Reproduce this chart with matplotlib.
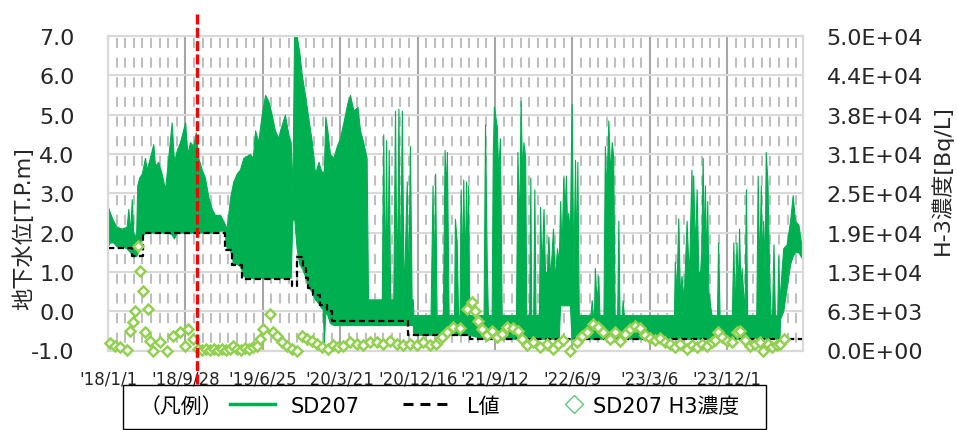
import matplotlib
matplotlib.use('Agg')
import matplotlib.pyplot as plt
from matplotlib.lines import Line2D
from matplotlib.patches import Rectangle
from matplotlib.ticker import FixedLocator, FormatStrFormatter
import numpy as np
import pandas as pd

plt.rcParams['font.family'] = ['DejaVu Sans', 'Noto Sans CJK JP']
plt.rcParams['axes.unicode_minus'] = False
plt.rcParams['lines.scale_dashes'] = False

start = pd.Timestamp('2018-01-01')
end = pd.Timestamp('2024-08-21')
event_day = pd.Timestamp('2018-11-07')

# SD207 water level: daily min / max, day = days since 2018-01-01
wl_day = [0, 7, 18, 30, 48, 65, 71, 77, 83, 88, 98, 102, 109, 118, 129, 135, 146, 158, 164, 175,
          187, 199, 210, 222, 230, 240, 251, 269, 277, 286, 298, 306, 315, 327, 338, 350, 362, 373, 391, 405,
          414, 426, 437, 449, 460, 472, 484, 495, 505, 513, 524, 536, 548, 559, 571, 582, 594,
          600, 617, 629, 637, 643, 649, 658, 667, 676, 687, 699, 711, 722, 734, 742, 749, 753, 758, 765,
          774, 786, 798, 809, 821, 835, 844, 856, 870, 879, 890, 902, 907, 925, 955, 960, 965, 970, 974,
          979, 984, 995, 1001, 1007, 1013, 1018, 1025, 1031, 1042, 1047, 1053, 1059, 1063,
          1065, 1125, 1132, 1136, 1141, 1146, 1168, 1174, 1179, 1182, 1188, 1207, 1210, 1216, 1221, 1226,
          1230, 1235, 1239, 1244, 1249, 1253, 1256, 1260, 1310, 1315, 1321, 1325, 1338, 1342, 1346, 1356,
          1361, 1367, 1373, 1423, 1428, 1434, 1439, 1444, 1449, 1455, 1459, 1469, 1473, 1476, 1483, 1487,
          1491, 1503, 1507, 1512, 1519, 1524, 1531, 1536, 1542, 1552, 1558, 1566, 1572, 1577, 1582, 1588,
          1593, 1597, 1601, 1605, 1611, 1617, 1623, 1629, 1633, 1637, 1642, 1683, 1687, 1691, 1695, 1698,
          1704, 1710, 1714, 1728, 1733, 1738, 1745, 1751, 1757, 1762, 1767, 1776, 1780, 1784, 1792, 1795,
          1799, 1974, 1977, 1982, 1989, 1995, 2000, 2008, 2018, 2026, 2035, 2038, 2041, 2047, 2053, 2059,
          2065, 2069, 2074, 2078, 2082, 2086, 2090, 2094, 2100, 2105, 2124, 2128, 2133, 2176, 2181, 2186,
          2192, 2197, 2201, 2206, 2210, 2220, 2225, 2229, 2261, 2266, 2271, 2277, 2281, 2285, 2290, 2294,
          2300, 2306, 2311, 2316, 2321, 2326, 2334, 2338, 2342, 2344, 2355, 2367, 2379, 2388, 2396, 2408, 2420]
wl_low = [1.68, 1.75, 1.75, 1.65, 1.65, 1.60, 1.55, 1.50, 1.45, 1.40, 1.40, 1.45, 1.70, 1.90, 2.00, 2.00, 2.00, 2.00, 2.00, 2.00,
          2.00, 2.00, 2.00, 1.95, 1.85, 2.00, 2.00, 2.00, 2.00, 2.00, 2.00, 2.00, 2.00, 2.00, 2.00, 2.00, 2.00, 2.00, 2.05, 2.05,
          1.60, 1.55, 1.20, 1.20, 1.15, 0.90, 0.85, 0.85, 0.85, 0.85, 0.85, 0.85, 0.85, 0.85, 0.85, 0.85, 0.85,
          0.85, 0.85, 0.85, 0.85, 2.30, 2.40, 1.60, 1.20, 1.10, 0.90, 0.60, 0.50, 0.30, 0.20, 0.10, 0.05, -0.80, 0.00, -0.10,
          -0.30, -0.35, -0.35, -0.35, -0.35, -0.35, -0.35, -0.35, -0.35, -0.35, -0.35, -0.35, -0.35, -0.35, -0.35, -0.35, -0.35, -0.35, -0.35,
          -0.35, -0.35, -0.35, -0.35, -0.35, -0.35, -0.35, -0.35, -0.35, -0.35, -0.35, -0.35, -0.35, -0.35,
          -0.6, -0.6, -0.6, -0.6, -0.6, -0.6, -0.6, -0.6, -0.6, -0.6, -0.6, -0.6, -0.6, -0.6, -0.6, -0.6,
          -0.6, -0.6, -0.6, -0.6, -0.6, -0.6, -0.6, -0.6, -0.7, -0.7, -0.7, -0.7, -0.7, -0.7, -0.7, -0.7,
          -0.7, -0.7, -0.7, -0.7, -0.7, -0.7, -0.7, -0.7, -0.7, -0.7, -0.7, -0.7, -0.7, -0.7, -0.7, -0.7,
          -0.7, -0.7, -0.7, -0.7, -0.7, -0.7, -0.7, -0.7, -0.7, -0.7, -0.7, -0.7, -0.7, 0.15, 0.15, 0.15,
          0.15, 0.15, 0.15, 0.15, 0.15, -0.7, -0.7, -0.7, -0.7, -0.7, -0.7, -0.7, -0.7, -0.7, -0.7, -0.7,
          -0.7, -0.7, -0.7, -0.7, -0.7, -0.7, -0.7, -0.7, -0.7, -0.7, -0.7, -0.7, -0.7, -0.7, -0.7, -0.7,
          -0.7, -0.7, -0.7, -0.7, -0.7, -0.7, -0.7, -0.7, -0.7, -0.7, -0.7, -0.7, -0.7, -0.7, -0.7, -0.7,
          -0.7, -0.7, -0.7, -0.7, -0.7, -0.7, -0.7, -0.7, -0.7, -0.7, -0.7, -0.7, -0.7, -0.7, -0.7, -0.7,
          -0.7, -0.7, -0.7, -0.7, -0.7, -0.7, -0.7, -0.7, -0.7, -0.7, -0.7, -0.7, -0.7, -0.7, -0.7, -0.7,
          -0.7, -0.7, -0.7, -0.7, -0.7, -0.7, -0.7, -0.7, -0.7, -0.2, 0.0, 0.6, 1.2, 1.4, 1.5, 1.5, 1.35]
wl_high = [2.65, 2.50, 2.30, 2.15, 2.10, 2.15, 2.60, 2.00, 2.85, 2.00, 1.90, 3.20, 3.40, 3.50, 3.90, 3.60, 3.90, 4.25, 3.70, 3.80,
           3.50, 3.10, 3.90, 4.80, 3.80, 4.10, 4.30, 4.80, 4.00, 4.30, 4.20, 4.55, 3.90, 3.60, 3.40, 2.90, 2.60, 2.45, 2.45, 2.25,
           2.10, 2.90, 3.30, 3.50, 3.60, 3.90, 3.95, 4.00, 3.90, 4.60, 4.30, 5.00, 5.50, 5.35, 5.00, 4.60, 4.40,
           4.60, 5.00, 4.50, 4.30, 3.00, 7.00, 7.00, 6.60, 6.00, 5.50, 4.90, 4.30, 3.50, 3.80, 3.60, 3.50, 3.60, 4.95, 4.60,
           4.00, 3.90, 4.20, 4.40, 4.80, 5.30, 5.50, 5.10, 5.20, 4.60, 4.30, 3.90, 0.30, 0.30, 0.30, 4.50, 0.30, 4.35, 0.30,
           4.10, 0.30, 0.30, 5.10, 0.30, 5.15, 0.30, 5.10, 0.30, 3.30, 0.30, 4.20, 0.30, 0.30,
           -0.1, -0.1, 3.2, 0.5, 3.5, -0.1, -0.1, 4.1, 3.0, 4.05, -0.1, -0.1, 2.35, 1.8, -0.1, -0.1,
           3.1, 1.0, 3.35, 1.0, 3.3, 1.0, 3.2, -0.1, -0.1, 4.75, 1.2, -0.1, -0.1, 4.0, 5.2, 4.7,
           3.5, 4.4, -0.1, -0.1, 4.05, 2.0, 5.35, 3.5, 4.3, 3.9, -0.1, -0.1, 3.4, -0.1, -0.1, 3.1,
           -0.1, -0.1, 2.65, 1.0, 2.6, 1.0, 1.0, 1.9, 0.8, 2.1, 0.8, 1.6, 1.2, 2.8, 1.5, 3.4,
           2.5, 3.45, 2.2, 2.5, 2.0, 5.27, 1.0, 3.85, 1.0, 3.8, -0.1, -0.1, 0.28, -0.1, -0.1, 1.1,
           0.2, 0.9, -0.1, -0.1, 4.2, 3.0, 4.85, 3.5, 4.3, 3.9, -0.1, -0.1, 2.3, -0.1, -0.1, 0.28,
           -0.1, -0.1, 1.26, 0.3, 2.36, 0.3, 0.9, 0.3, 2.3, 0.8, 3.6, 1.5, 3.45, 1.5, 3.1, 1.0,
           1.0, 1.5, 3.9, 1.5, 3.2, 1.0, 2.8, 0.5, 0.15, -0.1, -0.1, 1.75, -0.1, -0.1, 1.75, -0.1,
           1.75, 0.5, 2.1, 0.5, 1.1, -0.1, 3.1, -0.1, -0.1, 3.45, 1.0, 3.2, 1.0, 2.3, 1.0, 4.05,
           3.3, 0.9, -0.1, -0.1, 1.7, -0.1, -0.1, 1.4, -0.1, 0.5, 1.6, 1.7, 2.3, 2.95, 2.3, 2.2, 1.6]

# L value (step line)
l_day = [0, 83, 123, 408, 431, 466, 641, 659, 681, 691, 699, 716, 739, 763, 780, 1046, 1263, 2420]
l_val = [1.6, 1.4, 2.0, 1.55, 1.17, 0.83, 0.65, 1.39, 1.09, 0.85, 0.58, 0.40, 0.15, 0.0, -0.25, -0.6, -0.7, -0.7]

# SD207 H3 concentration [Bq/L]
h3_day = [7, 24, 42, 66, 77, 87, 94, 105, 112, 122, 129, 140, 146, 157, 181, 206, 227, 251, 269, 279,
          296, 314, 328, 342, 356, 370, 384, 398, 412, 426, 436, 450, 464, 478, 492, 506, 520, 530, 541, 565,
          576, 589, 607, 624, 642, 659, 677, 694, 712, 729, 746, 767, 785, 802, 820, 844, 869, 889, 914, 938,
          959, 984, 1008, 1029, 1053, 1078, 1099, 1123, 1144, 1158, 1165, 1182, 1203, 1228, 1252, 1270, 1280, 1291, 1305, 1322,
          1339, 1357, 1374, 1392, 1413, 1430, 1444, 1461, 1482, 1507, 1531, 1552, 1570, 1587, 1611, 1636, 1653, 1671, 1692, 1709,
          1727, 1751, 1768, 1786, 1803, 1821, 1838, 1856, 1873, 1891, 1908, 1926, 1943, 1960, 1978, 1995, 2020, 2037, 2054, 2072,
          2089, 2107, 2117, 2128, 2142, 2159, 2176, 2194, 2204, 2222, 2239, 2257, 2274, 2285, 2302, 2316, 2333, 2344, 2358]
h3_val = [1190, 760, 500, 100, 3150, 4580, 6330, 16660, 12690, 9510, 2940, 6600, 1560, 0, 1350, 0, 2350, 2940, 760, 3420,
          1830, 200, 100, 300, 100, 200, 100, 300, 150, 250, 760, 300, 100, 400, 200, 500, 760, 1830, 3420, 5800,
          2900, 2350, 1300, 760, 240, 0, 2350, 1830, 1560, 1030, 600, 240, 900, 500, 700, 1350, 1000, 800, 1350, 1300,
          1000, 1560, 1000, 800, 1000, 800, 1300, 800, 1000, 1830, 2100, 2890, 3740, 3600, 6600, 7700, 6330, 4740, 3420, 2500,
          3150, 2150, 2600, 3740, 3500, 3150, 1830, 900, 1300, 560, 1030, 300, 1030, 1600, 0, 1300, 2350, 3000, 4210, 3700,
          2940, 1800, 3000, 1560, 2600, 3420, 3940, 3500, 2500, 2000, 1700, 2000, 1300, 1000, 560, 1000, 240, 800, 500, 1000,
          700, 1300, 1600, 2890, 2200, 1500, 1300, 2890, 3100, 1600, 700, 1000, 1300, 0, 1000, 600, 800, 1000, 1830]

x_labels = ["'18/1/1", "'18/9/28", "'19/6/25", "'20/3/21", "'20/12/16", "'21/9/12", "'22/6/9", "'23/3/6", "'23/12/1"]
y2_labels = ['0.0E+00', '6.3E+03', '1.3E+04', '1.9E+04', '2.5E+04', '3.1E+04', '3.8E+04', '4.4E+04', '5.0E+04']

green = '#00B050'
light_green = '#92D050'


def to_date(days):
    return start + pd.to_timedelta(days, unit='D')


fig = plt.figure(figsize=(9.57, 4.31), dpi=100)
ax = fig.add_axes([108 / 957, 79.5 / 431, 695 / 957, 314.5 / 431])
ax2 = ax.twinx()

ax.fill_between(to_date(wl_day), wl_low, wl_high, color=green, lw=0.8, zorder=2)
ax.step(to_date(l_day), l_val, where='post', color='black', lw=1.6, ls=(0, (4.5, 2.5)), zorder=3)
ax2.plot(to_date(h3_day), h3_val, ls='none', marker='D', ms=5, mfc='white', mec=light_green, mew=1.8,
         clip_on=False, zorder=4)
ax2.axvline(event_day, ymin=-0.1065, ymax=1.0795, color='red', lw=2.4, ls=(0, (7.2, 2.4)),
            clip_on=False, zorder=6)

# axes
ax.set_xlim(start, end)
ax.set_ylim(-1, 7)
ax2.set_ylim(0, 50000)
major = pd.date_range(start, end, freq='270D')
minor = pd.date_range(start, end, freq='30D')
ax.set_xticks(major, labels=x_labels)
ax.xaxis.set_minor_locator(FixedLocator(matplotlib.dates.date2num(minor)))
ax.set_yticks(range(-1, 8))
ax.yaxis.set_major_formatter(FormatStrFormatter('%.1f'))
ax2.set_yticks(np.linspace(0, 50000, 9), labels=y2_labels)

ax.tick_params(axis='x', which='both', length=0, pad=14, labelsize=12)
ax.tick_params(axis='y', length=0, pad=24, labelsize=16, colors='#262626')
ax2.tick_params(axis='y', length=0, pad=17, labelsize=16, colors='#262626')
ax.tick_params(axis='x', colors='#262626')

ax.grid(axis='y', which='major', color='#D9D9D9', lw=1.5)
ax.grid(axis='x', which='major', color='#A6A6A6', lw=1.5)
ax.grid(axis='x', which='minor', color='#BFBFBF', lw=1.5, ls=(8.2, (7.2, 6.95)))
ax.set_axisbelow(True)
for a in (ax, ax2):
    for s in a.spines.values():
        s.set_color('#D9D9D9')
        s.set_linewidth(1.5)

ax.set_ylabel('地下水位[T.P.m]', fontsize=16, va='center', color='#262626')
ax.yaxis.set_label_coords(-0.1223, 0.39)
ax2.set_ylabel('H-3濃度[Bq/L]', fontsize=16, va='center', color='#262626')
ax2.yaxis.set_label_coords(1.2, 0.545)

# legend box below the chart
fig.add_artist(Rectangle((122.7 / 957, 1 / 431), (766 - 122.7) / 957, (430 - 385.7) / 431,
                         transform=fig.transFigure, fill=False, ec='black', lw=1))
fig.text(140 / 957, 1 - 406.7 / 431, '（凡例）', fontsize=15, va='center')
entries = [
    (Line2D([], [], color=green, lw=2.5), 'SD207', 230, 2.16, 0.75),
    (Line2D([], [], color='black', lw=2.2, ls=(0, (7.2, 5.0))), 'L値', 403, 2.16, 0.9),
    (Line2D([], [], ls='none', marker='D', ms=9.5, mfc='white', mec='#5ECC7A', mew=1), 'SD207 H3濃度', 564, 1.0, 0.4),
]
for handle, label, x0, hl, pad in entries:
    fig.legend([handle], [label], loc='center left', bbox_to_anchor=(x0 / 957, 1 - 406.7 / 431),
               frameon=False, borderpad=0, borderaxespad=0, handlelength=hl, handletextpad=pad,
               fontsize=15, numpoints=1)

fig.savefig('out.png', dpi=100)
